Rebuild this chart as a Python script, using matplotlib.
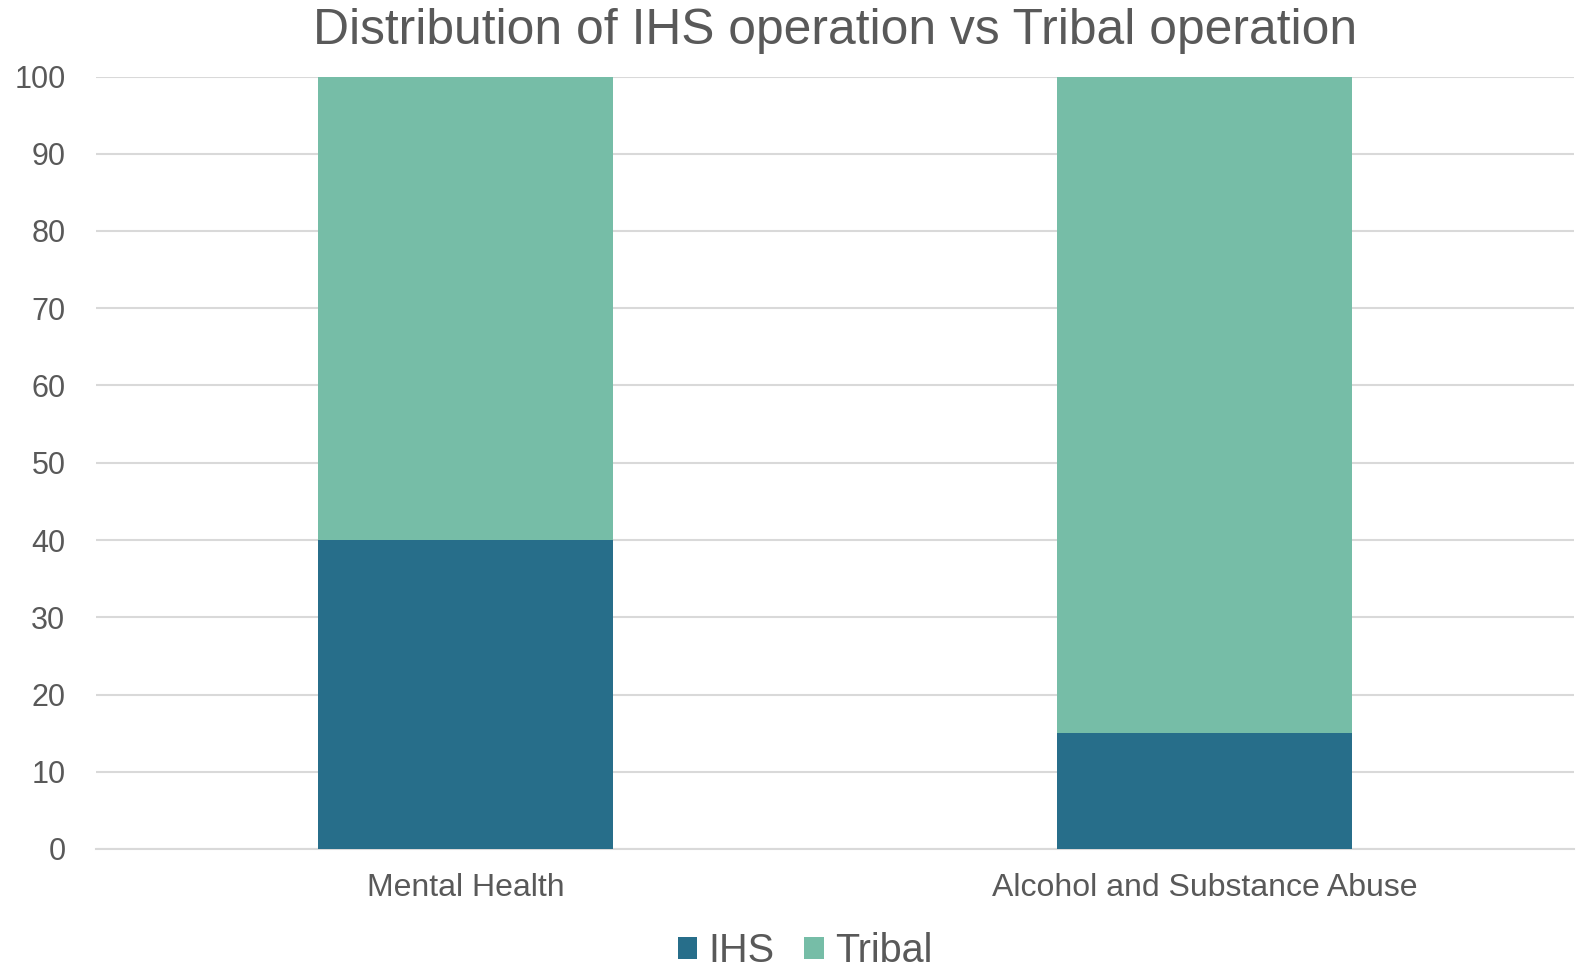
import matplotlib
matplotlib.use("Agg")
import matplotlib.pyplot as plt
import numpy as np

categories = ["Mental Health", "Alcohol and Substance Abuse"]
ihs = [40, 15]
tribal = [60, 85]
yticks = list(range(0, 101, 10))
title = "Distribution of IHS operation vs Tribal operation"

plt.rcParams['font.family'] = ['Liberation Sans', 'DejaVu Sans']
txt = '#595959'
c_ihs = '#276E8A'
c_tribal = '#76BDA7'

fig = plt.figure(figsize=(15.79, 9.67), dpi=100)
ax = fig.add_axes([96/1579, 1-849/967, (1574-96)/1579, (849-76.5)/967])

x = np.arange(len(categories))
ax.bar(x, ihs, width=0.4, color=c_ihs, label='IHS', zorder=3)
ax.bar(x, tribal, width=0.4, bottom=ihs, color=c_tribal, label='Tribal', zorder=3)

ax.set_xlim(-0.5, 1.5)
ax.set_ylim(0, 100)
ax.set_yticks(yticks)
ax.set_xticks(x)
ax.set_xticklabels(categories)
ax.yaxis.grid(True, color='#D9D9D9', linewidth=1.5, zorder=0)
ax.set_axisbelow(True)
for s in ['top', 'right', 'left']:
    ax.spines[s].set_visible(False)
ax.spines['bottom'].set_color('#D9D9D9')
ax.spines['bottom'].set_linewidth(1.5)
ax.tick_params(axis='y', length=0, labelsize=22, labelcolor=txt, pad=22)
ax.tick_params(axis='x', length=0, labelsize=23, labelcolor=txt, pad=17)

fig.text((96+1574)/2/1579, 1-31/967, title, ha='center', va='center', fontsize=35.8, color=txt)

leg = fig.legend(loc='center', bbox_to_anchor=(805/1579, 1-951/967), ncol=2, frameon=False,
                 fontsize=28.5, labelcolor=txt, handlelength=0.5, handleheight=0.5,
                 handletextpad=0.28, columnspacing=0.75)

fig.savefig('out.png', dpi=100)
